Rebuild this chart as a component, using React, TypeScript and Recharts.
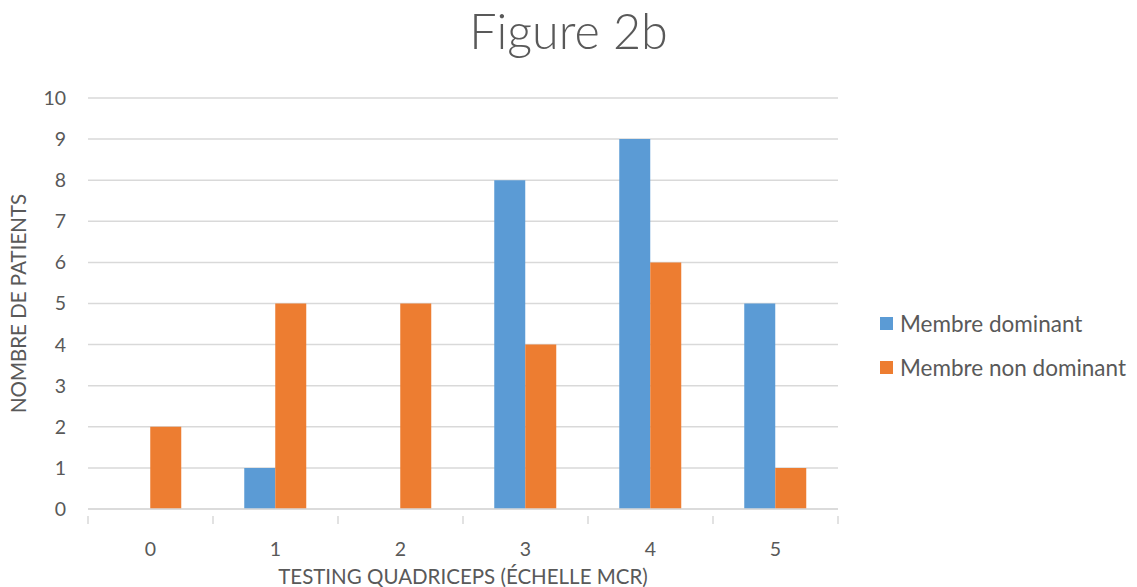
import React from "react";
import { BarChart, Bar, XAxis, YAxis, CartesianGrid } from "recharts";

const categories = ["0", "1", "2", "3", "4", "5"];
const dominant = [0, 1, 0, 8, 9, 5];
const nonDominant = [2, 5, 5, 4, 6, 1];
const yTicks = [0, 1, 2, 3, 4, 5, 6, 7, 8, 9, 10];
const seriesNames = ["Membre dominant", "Membre non dominant"];
const seriesColors = ["#5B9BD5", "#ED7D31"];

const data = categories.map((c, i) => ({
  cat: c,
  dom: dominant[i],
  nondom: nonDominant[i],
}));

const W = 1137;
const H = 587;
const M = { top: 98, right: 299, bottom: 0, left: 0 };
const X_H = 78;
const Y_W = 88;
const PLOT_W = W - M.left - M.right - Y_W;
const BAND = PLOT_W / categories.length;
const FONT = "Lato, 'Open Sans', sans-serif";
const TXT = "#595959";

const XTick = (props: any) => {
  const { x, y, payload, index } = props;
  const left = x - BAND / 2;
  const right = x + BAND / 2;
  return (
    <g>
      <line x1={left} y1={y - 1} x2={left} y2={y + 7} stroke="#D9D9D9" strokeWidth={1.5} />
      {index === categories.length - 1 && (
        <line x1={right} y1={y - 1} x2={right} y2={y + 7} stroke="#D9D9D9" strokeWidth={1.5} />
      )}
      <text x={x} y={y + 31} textAnchor="middle" dominantBaseline="central" fill={TXT} fontSize={19.5} fontFamily={FONT}>
        {payload.value}
      </text>
    </g>
  );
};

const YTitle = (props: any) => {
  const vb = props.viewBox || {};
  const cy = (vb.y || 0) + (vb.height || 0) / 2;
  return (
    <text
      x={18}
      y={cy}
      transform={`rotate(-90, 18, ${cy})`}
      textAnchor="middle"
      dominantBaseline="central"
      fill={TXT}
      fontSize={20.5}
      fontFamily={FONT}
    >
      NOMBRE DE PATIENTS
    </text>
  );
};

const XTitle = (props: any) => {
  const vb = props.viewBox || {};
  const cx = (vb.x || 0) + (vb.width || 0) / 2;
  return (
    <text x={cx} y={584} textAnchor="middle" fill={TXT} fontSize={20.5} fontFamily={FONT}>
      TESTING QUADRICEPS (ÉCHELLE MCR)
    </text>
  );
};

export default function App() {
  return (
    <div style={{ position: "absolute", left: 0, top: 0, width: W, height: H, background: "#fff" }}>
      <div
        style={{
          position: "absolute",
          left: 0,
          top: 1,
          width: W,
          textAlign: "center",
          fontFamily: FONT,
          fontWeight: 300,
          fontSize: 48.5,
          color: TXT,
        }}
      >
        Figure 2b
      </div>
      <BarChart
        width={W}
        height={H}
        data={data}
        margin={M}
        barGap={0}
        barCategoryGap="25%"
        style={{ position: "absolute", left: 0, top: 0 }}
      >
        <CartesianGrid vertical={false} stroke="#D9D9D9" strokeWidth={1.5} />
        <XAxis
          dataKey="cat"
          axisLine={{ stroke: "#D9D9D9", strokeWidth: 1.5 }}
          tickLine={false}
          tick={<XTick />}
          interval={0}
          height={X_H}
          label={<XTitle />}
        />
        <YAxis
          width={Y_W}
          domain={[0, 10]}
          ticks={yTicks}
          interval={0}
          axisLine={false}
          tickLine={false}
          tickSize={0}
          tickMargin={22}
          tick={{ fill: TXT, fontSize: 19.5, fontFamily: FONT }}
          label={<YTitle />}
        />
        <Bar dataKey="dom" name={seriesNames[0]} fill={seriesColors[0]} isAnimationActive={false} />
        <Bar dataKey="nondom" name={seriesNames[1]} fill={seriesColors[1]} isAnimationActive={false} />
      </BarChart>
      <div style={{ position: "absolute", left: 880, top: 310, fontFamily: FONT, fontSize: 22.5, color: TXT }}>
        {seriesNames.map((n, i) => (
          <div key={n} style={{ display: "flex", alignItems: "center", height: 26, marginBottom: i === 0 ? 18 : 0 }}>
            <span style={{ display: "inline-block", width: 13, height: 13, background: seriesColors[i], marginRight: 7 }} />
            <span>{n}</span>
          </div>
        ))}
      </div>
    </div>
  );
}
